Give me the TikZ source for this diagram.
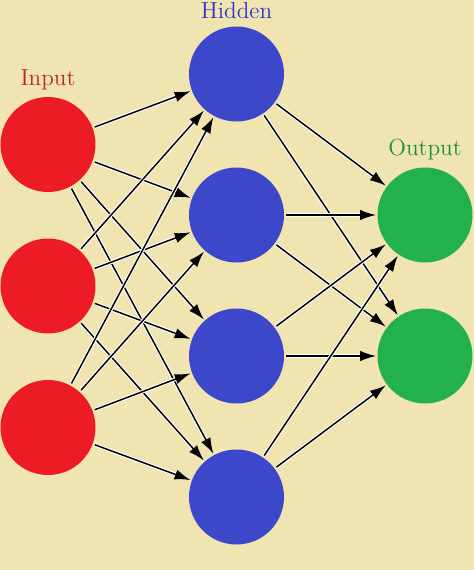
\documentclass[tikz,border=0pt]{standalone}
\usetikzlibrary{positioning,arrows.meta}
\definecolor{bgcol}{HTML}{F0E4B1}
\definecolor{inred}{HTML}{ED1C24}
\definecolor{hidblue}{HTML}{3D47C9}
\definecolor{outgreen}{HTML}{22B14C}
\definecolor{inlab}{HTML}{BC252C}
\definecolor{hidlab}{HTML}{2C36C2}
\definecolor{outlab}{HTML}{1C8E3C}
\tikzset{
  neuron/.style={circle, minimum size=47.5pt, inner sep=0pt},
  inneuron/.style={neuron, fill=inred},
  hidneuron/.style={neuron, fill=hidblue},
  outneuron/.style={neuron, fill=outgreen},
  layerlabel/.style={font=\fontsize{11.6}{14}\selectfont, inner sep=0.3333em},
  synapse/.style={->, black, line width=0.75pt, shorten <=1pt, shorten >=0.5pt,
    preaction={draw=white, line width=1.8pt, -, shorten <=1pt, shorten >=3pt}}
}
\begin{document}
\begin{tikzpicture}[>={Latex[length=8pt,width=5.2pt]}, node distance=70.5pt, on grid]
\fill[bgcol] (-118.25pt,37pt) rectangle (118.75pt,-248pt);
\useasboundingbox (-118.25pt,37pt) rectangle (118.75pt,-248pt);

% hidden layer
\node[hidneuron](H1) at (0,0) {};
\node[hidneuron, below=of H1](H2) {};
\node[hidneuron, below=of H2](H3) {};
\node[hidneuron, below=of H3](H4) {};

% input layer
\node[inneuron, below left=35.25pt and 94.25pt of H1](I1) {};
\node[inneuron, below=70.75pt of I1](I2) {};
\node[inneuron, below=70.75pt of I2](I3) {};

% output layer
\node[outneuron, right=94.25pt of H2](O1) {};
\node[outneuron, below=of O1](O2) {};

% labels
\node[layerlabel, text=inlab, above=0pt of I1.north, anchor=south](Lin) {Input};
\node[layerlabel, text=hidlab, above=0pt of H1.north, anchor=south](Lhid) {Hidden};
\node[layerlabel, text=outlab, above=0pt of O1.north, anchor=south](Lout) {Output};

\path (I1) edge[synapse] (H1);
\path (I1) edge[synapse] (H2);
\path (I1) edge[synapse] (H3);
\path (I1) edge[synapse] (H4);
\path (I2) edge[synapse] (H1);
\path (I2) edge[synapse] (H2);
\path (I2) edge[synapse] (H3);
\path (I2) edge[synapse] (H4);
\path (I3) edge[synapse] (H1);
\path (I3) edge[synapse] (H2);
\path (I3) edge[synapse] (H3);
\path (I3) edge[synapse] (H4);

\path (H1) edge[synapse] (O1);
\path (H1) edge[synapse] (O2);
\path (H2) edge[synapse] (O1);
\path (H2) edge[synapse] (O2);
\path (H3) edge[synapse] (O1);
\path (H3) edge[synapse] (O2);
\path (H4) edge[synapse] (O1);
\path (H4) edge[synapse] (O2);
\end{tikzpicture}
\end{document}
